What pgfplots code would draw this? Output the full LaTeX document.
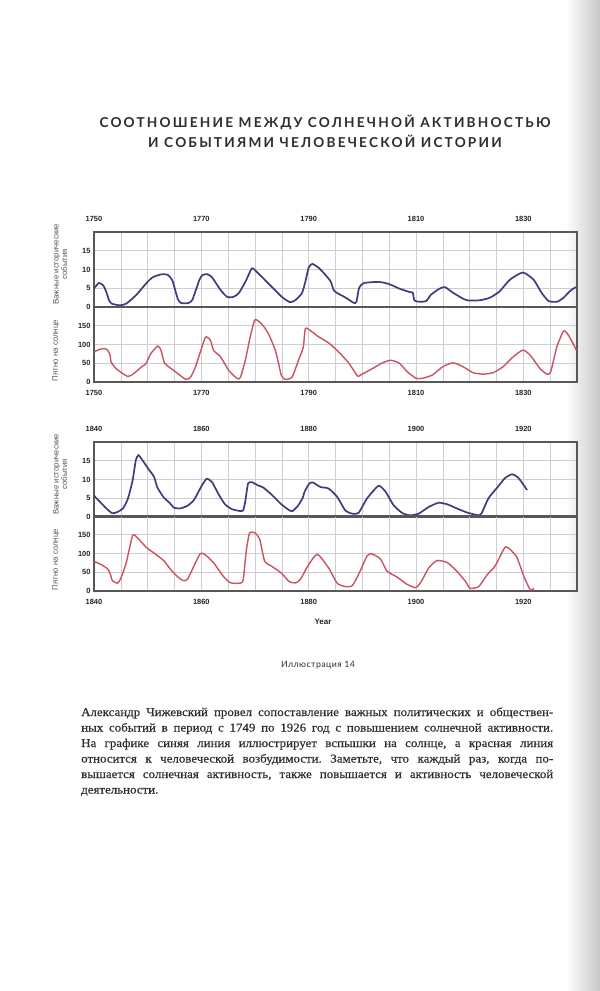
\documentclass[border=0pt]{standalone}
\usepackage{pgfplots}
\pgfplotsset{compat=1.18}
\usepackage{fontspec}
\setmainfont{Liberation Sans}
\newfontfamily\titlefont[LetterSpace=16]{Lato}
\newfontfamily\capfont[LetterSpace=5]{Lato}
\newfontfamily\bodyfont[FakeStretch=1.08, FakeBold=0.4]{Liberation Serif}
\definecolor{evblue}{HTML}{3F3D7E}
\definecolor{sunred}{HTML}{C9535E}
\definecolor{framegray}{HTML}{585858}
\definecolor{gridgray}{HTML}{CDCDD6}
\definecolor{textgray}{HTML}{2E2E2E}
\pgfplotsset{
  panel/.style={
    scale only axis, width=483bp, height=75bp,
    axis line style={framegray, line width=1.1bp},
    grid=both,
    major grid style={gridgray, line width=0.6bp},
    minor grid style={gridgray, line width=0.6bp},
    tick style={draw=none},
    ticklabel style={font=\fontsize{7.5}{8}\selectfont\bfseries, text=black!85},
    /pgf/number format/assume math mode=true,
    /pgf/number format/1000 sep={},
    ylabel style={font=\fontsize{7.9}{8.6}\selectfont, text=black!65, align=center, anchor=center},
    clip=true,
  },
  upperp/.style={panel, ymin=0, ymax=20, ytick={0,5,10,15},
    xticklabel pos=upper, xticklabel style={yshift=6.5bp},
    ylabel={Важные исторические\\события},
    ylabel style={at={(axis description cs:-0.07,0.57)}}},
  lowerp/.style={panel, ymin=0, ymax=200, ytick={0,50,100,150},
    xticklabel style={yshift=-5bp},
    ylabel={Пятно на солнце},
    ylabel style={at={(axis description cs:-0.079,0.42)}}},
  c1/.style={xmin=1750, xmax=1840, xtick={1750,1770,...,1830}, minor xtick={1755,1760,...,1835}},
  c2/.style={xmin=1840, xmax=1930, xtick={1840,1860,...,1920}, minor xtick={1845,1850,...,1925}},
  blueline/.style={evblue, line width=1.7bp, smooth, tension=0.35},
  redline/.style={sunred, line width=1.4bp, smooth, tension=0.35},
}
\begin{document}
\frenchspacing
\begin{tikzpicture}[x=1bp,y=1bp]
\path[use as bounding box, fill=white] (0,0) rectangle (600,-991);
\shade[left color=white, right color=black!22] (566,0) rectangle (600,-991);
% title
\node[anchor=base, text=textgray, font=\titlefont\bfseries\fontsize{13.7}{15}\selectfont] at (325,-127) {СООТНОШЕНИЕ МЕЖДУ СОЛНЕЧНОЙ АКТИВНОСТЬЮ};
\node[anchor=base, text=textgray, font=\titlefont\bfseries\fontsize{13.7}{15}\selectfont] at (325,-147) {И СОБЫТИЯМИ ЧЕЛОВЕЧЕСКОЙ ИСТОРИИ};

% chart 1
\begin{axis}[upperp, c1, at={(94bp,-232bp)}, anchor=north west]
\addplot[blueline] coordinates {(1750,4.9)(1750.9,6.4)(1751.7,5.8)(1752.3,4)(1752.8,1.8)(1753.3,0.9)(1754.8,0.45)(1756,0.9)(1757.8,3.1)(1759.7,6.25)(1760.9,7.9)(1762.5,8.7)(1763.7,8.6)(1764.6,7.1)(1765.6,2.2)(1766.2,1.1)(1767.4,1)(1768.3,1.8)(1769.6,7.1)(1770.2,8.5)(1771.1,8.75)(1772,7.9)(1773.6,4.5)(1774.8,2.7)(1776,2.7)(1777,3.75)(1778.2,6.7)(1779.4,10.3)(1780,9.8)(1781.3,8)(1783.1,5.4)(1785,2.7)(1786.5,1.3)(1787.5,1.8)(1788.7,3.6)(1789.3,6.25)(1790,10.5)(1790.7,11.5)(1791.9,10.4)(1793.1,8.6)(1794.1,6.8)(1794.7,4.4)(1795.6,3.5)(1796.9,2.5)(1798.4,1.1)(1798.9,1.4)(1799.4,5.1)(1800.3,6.4)(1803.1,6.7)(1805,6.1)(1806.9,4.9)(1808.8,4.0)(1809.4,3.8)(1809.7,1.75)(1810.6,1.4)(1811.9,1.6)(1812.8,3.3)(1814.4,4.9)(1815.4,5.3)(1816.9,3.8)(1818.8,2.2)(1819.7,1.75)(1821.9,1.8)(1823.8,2.5)(1825.6,4.2)(1827.5,7.3)(1829.9,9.2)(1831.9,7.3)(1833.4,3.8)(1834.7,1.6)(1836.3,1.4)(1837.5,2.5)(1838.8,4.4)(1839.8,5.3)};
\end{axis}
\begin{axis}[lowerp, c1, at={(94bp,-307bp)}, anchor=north west]
\addplot[redline] coordinates {(1750,80)(1751,87)(1752,89)(1752.6,84)(1753,71)(1753.2,53)(1754.1,36)(1755.4,22)(1756.3,15)(1757.2,20)(1758.5,36)(1759.1,43)(1759.7,49)(1760.6,76)(1761.9,96)(1762.5,84)(1763.1,51)(1763.7,43)(1765.2,27)(1767.1,7)(1768,13)(1768.9,40)(1769.9,84)(1770.8,120)(1771.7,111)(1772.3,84)(1773.6,67)(1775.1,31)(1776.7,9)(1777.3,13)(1778.2,58)(1779.1,120)(1780,166)(1781.3,154)(1782.5,129)(1783.8,84)(1784.4,49)(1784.9,18)(1785.6,7)(1786.9,13)(1788.1,58)(1789,93)(1789.4,143)(1790.6,134)(1791.9,120)(1793.75,104)(1795.6,80)(1797.5,50)(1799.1,16)(1799.7,19)(1801.9,36)(1803.75,51)(1805.3,58)(1806.9,50)(1808.4,27)(1810,10)(1811.25,10)(1813.1,19)(1815,41)(1816.9,51)(1818.75,41)(1820.6,25)(1822.5,21)(1824.4,25)(1826.25,41)(1828.1,67)(1829.9,85)(1831.25,72)(1833.1,36)(1834.4,21)(1835.1,27)(1836.25,94)(1837.5,136)(1838.4,125)(1839.9,85)};
\end{axis}

% chart 2
\begin{axis}[upperp, c2, at={(94bp,-442bp)}, anchor=north west]
\addplot[blueline] coordinates {(1840,5.7)(1841,4.2)(1842.3,2.3)(1843.4,1.0)(1844.4,1.35)(1845.4,2.3)(1846.3,4.8)(1847.2,9.8)(1847.8,15.2)(1848.3,16.5)(1849,15.2)(1850.3,12.5)(1851.2,10.7)(1851.8,7.9)(1853,5.2)(1854,3.9)(1854.9,2.5)(1856.1,2.3)(1857.4,3.0)(1858.6,4.5)(1860.1,8.4)(1861,10.2)(1862,9.3)(1863.2,6.1)(1864.4,3.4)(1865.7,2.1)(1867.2,1.6)(1867.8,1.8)(1868.2,4.3)(1868.7,8.9)(1869.4,9.3)(1870.6,8.4)(1871.5,7.9)(1873,6.1)(1874.9,3.4)(1876.4,1.8)(1877,1.6)(1878,3.0)(1878.9,5.1)(1879.2,6.6)(1880.1,8.9)(1880.8,9.2)(1882.2,8.0)(1883.7,7.6)(1885.3,5.4)(1886.8,1.8)(1888.1,0.9)(1889.3,1.1)(1890.9,5.0)(1893,8.3)(1894.3,6.8)(1895.8,3.2)(1897.4,1.1)(1898.9,0.45)(1900.5,0.9)(1902.4,2.7)(1904.2,3.8)(1905.8,3.4)(1907.6,2.3)(1909.5,1.2)(1911.7,0.45)(1912.3,1.2)(1913.5,5.0)(1915.4,8.3)(1916.6,10.4)(1917.9,11.4)(1919.1,10.4)(1920.7,7.2)};
\end{axis}
\begin{axis}[lowerp, c2, at={(94bp,-516bp)}, anchor=north west,
  xlabel={Year}, xlabel style={font=\fontsize{8}{9}\selectfont\bfseries, text=black!85, at={(axis description cs:0.474,0)}, anchor=center, yshift=-31bp}]
\addplot[redline] coordinates {(1840,79)(1841.4,70)(1842.6,58)(1843.1,43)(1843.4,28)(1844.4,21)(1845,34)(1846,75)(1847.2,148)(1848.1,142)(1849.7,117)(1851.2,101)(1853,81)(1854.3,57)(1855.5,39)(1856.6,28)(1857.4,31)(1858.6,66)(1859.8,100)(1860.7,97)(1862.3,75)(1864.1,39)(1865.4,22)(1867.2,21)(1867.8,30)(1868.4,110)(1869,155)(1870,155)(1870.9,137)(1871.8,79)(1873,67)(1874.9,48)(1876.4,25)(1877.7,22)(1878.6,34)(1879.8,66)(1881.6,98)(1883.7,62)(1885.3,21)(1886.8,12)(1888.1,14)(1889.3,44)(1890.9,94)(1891.8,99)(1893.4,85)(1894.6,53)(1896.5,37)(1898.3,18)(1899.9,9)(1900.8,21)(1902.4,62)(1903.9,81)(1905.8,76)(1907.6,53)(1909.2,26)(1910.1,7)(1911.7,12)(1913.3,44)(1914.5,62)(1915.1,76)(1916.6,117)(1917.6,110)(1918.8,90)(1920.1,39)(1921.3,3)(1922,7)};
\end{axis}

% caption
\node[anchor=base, text=textgray, font=\capfont\fontsize{8.8}{10}\selectfont] at (318,-667) {Иллюстрация 14};

% paragraph
\begin{scope}[every node/.style={anchor=base west, inner sep=0pt, text=textgray, font=\bodyfont\fontsize{12}{15}\selectfont}]
\node at (81,-716) {\makebox[472bp][s]{Александр Чижевский провел сопоставление важных политических и обществен-}};
\node at (81,-731.5) {\makebox[472bp][s]{ных событий в период с 1749 по 1926 год с повышением солнечной активности.}};
\node at (81,-747) {\makebox[472bp][s]{На графике синяя линия иллюстрирует вспышки на солнце, а красная линия}};
\node at (81,-762.5) {\makebox[472bp][s]{относится к человеческой возбудимости. Заметьте, что каждый раз, когда по-}};
\node at (81,-778) {\makebox[472bp][s]{вышается солнечная активность, также повышается и активность человеческой}};
\node at (81,-793.5) {деятельности.};
\end{scope}
\end{tikzpicture}
\end{document}
